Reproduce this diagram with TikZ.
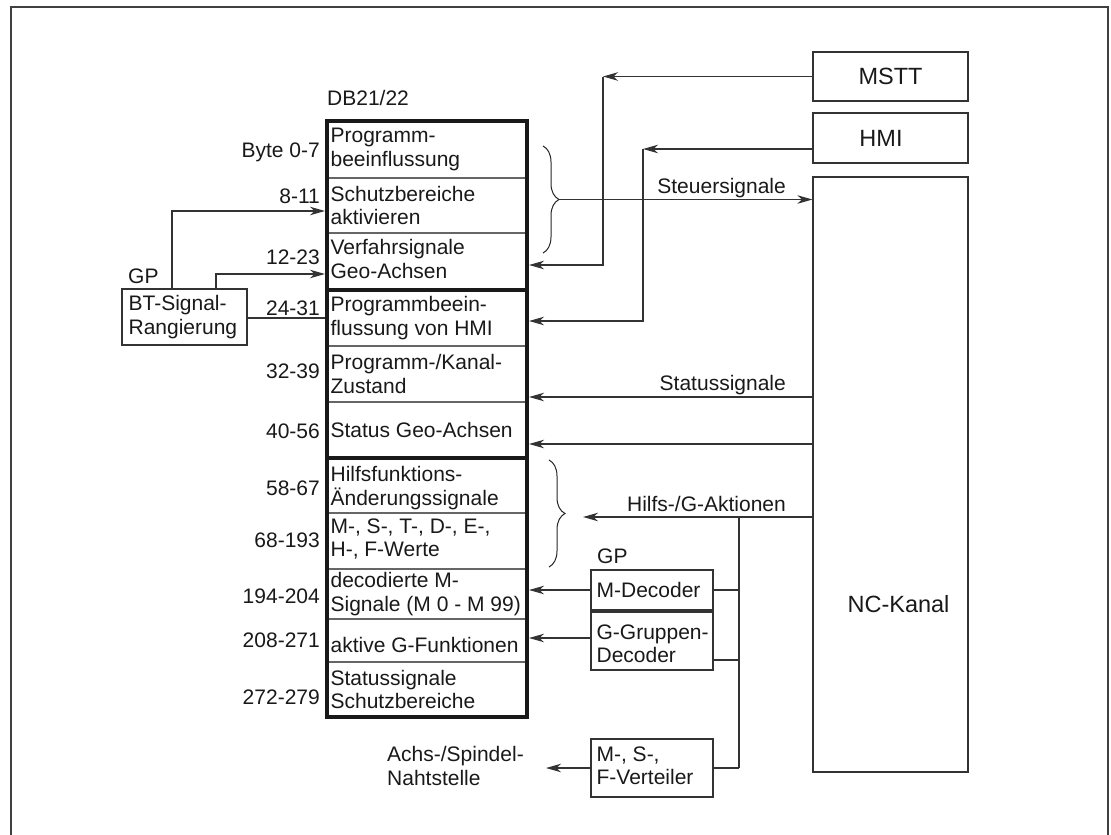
\documentclass[tikz,border=0pt]{standalone}
\usepackage{fontspec}
\setmainfont{Liberation Sans}
\usetikzlibrary{arrows.meta,decorations.pathreplacing}
\begin{document}
\begin{tikzpicture}[x=1pt,y=-1pt,
 every node/.style={font=\fontsize{21}{23.5}\selectfont, text=black!90, inner sep=0pt},
 big/.style={font=\fontsize{23.5}{26}\selectfont},
 ln/.style={draw=black!80, line width=1.2pt},
 arr/.style={ln, -{Stealth[length=15pt,width=8.5pt,inset=4.5pt]}},
 box/.style={draw=black!80, line width=1.2pt, rectangle, inner sep=0pt},
 row/.style={draw=black!60, line width=1.2pt, rectangle, minimum width=200pt, inner sep=0pt},
 grp/.style={draw=black!90, line width=4pt, rectangle, minimum width=200pt, inner sep=0pt},
 txt/.style={align=left, anchor=west},
 num/.style={anchor=base east},
 brc/.style={draw=black!85, line width=1pt, decorate, decoration={brace,amplitude=16pt}}
]
\useasboundingbox (0,0) rectangle (1111,835);
% outer frame
\draw[draw=black!75, line width=2pt] (11,836) -- (11,7) -- (1108,7) -- (1108,836);

% DB rows
\node[row, minimum height=57pt] (r1) at (427,149.5) {};
\node[row, minimum height=55pt] (r2) at (427,205.5) {};
\node[row, minimum height=57pt] (r3) at (427,261.5) {};
\node[row, minimum height=56pt] (r4) at (427,318) {};
\node[row, minimum height=56pt] (r5) at (427,374) {};
\node[row, minimum height=56pt] (r6) at (427,430) {};
\node[row, minimum height=55pt] (r7) at (427,485.5) {};
\node[row, minimum height=56pt] (r8) at (427,541) {};
\node[row, minimum height=50pt] (r9) at (427,594) {};
\node[row, minimum height=43pt] (r10) at (427,640.5) {};
\node[row, minimum height=55pt] (r11) at (427,689.5) {};
\node[grp, minimum height=169pt] (g1) at (427,205.5) {};
\node[grp, minimum height=168pt] (g2) at (427,374) {};
\node[grp, minimum height=259pt] (g3) at (427,587.5) {};

\node[txt] (t1) at ([xshift=4pt]r1.west) {Programm-\\beeinflussung};
\node[txt] (t2) at ([xshift=4pt]r2.west) {Schutzbereiche\\aktivieren};
\node[txt] (t3) at ([xshift=4pt,yshift=2.5pt]r3.west) {Verfahrsignale\\Geo-Achsen};
\node[txt] (t4) at ([xshift=4pt]r4.west) {Programmbeein-\\flussung von HMI};
\node[txt] (t5) at ([xshift=4pt]r5.west) {Programm-/Kanal-\\Zustand};
\node[txt] (t6) at ([xshift=4pt]r6.west) {Status Geo-Achsen};
\node[txt] (t7) at ([xshift=4pt,yshift=-2.5pt]r7.west) {Hilfsfunktions-\\Änderungssignale};
\node[txt] (t8) at ([xshift=4pt,yshift=2pt]r8.west) {M-, S-, T-, D-, E-,\\H-, F-Werte};
\node[txt] (t9) at ([xshift=4pt]r9.west) {decodierte M-\\Signale (M 0 - M 99)};
\node[txt] (t10) at ([xshift=4pt,yshift=-4pt]r10.west) {aktive G-Funktionen};
\node[txt] (t11) at ([xshift=4pt]r11.west) {Statussignale\\Schutzbereiche};

\node[anchor=base west] (db) at (327,105) {DB21/22};

% left numbers
\node[num] (n1) at (320,157) {Byte 0-7};
\node[num] (n2) at (320,203) {8-11};
\node[num] (n3) at (320,264) {12-23};
\node[num] (n4) at (320,315) {24-31};
\node[num] (n5) at (320,378) {32-39};
\node[num] (n6) at (320,438) {40-56};
\node[num] (n7) at (320,495) {58-67};
\node[num] (n8) at (320,547) {68-193};
\node[num] (n9) at (320,603) {194-204};
\node[num] (n10) at (320,647) {208-271};
\node[num] (n11) at (320,704) {272-279};

% BT box
\node[anchor=base west] (gp1) at (128,283) {GP};
\node[box, minimum width=125pt, minimum height=56pt] (bt) at (184.5,317) {};
\node[txt] (tbt) at ([xshift=7pt]bt.west) {BT-Signal-\\Rangierung};
\coordinate (c1) at (172,211);
\coordinate (c2) at (216,274);
\coordinate (c3) at (250,318);
\draw[arr] (bt.north -| c1) -- (c1) -- (g1.west |- c1);
\draw[arr] (bt.north -| c2) -- (c2) -- (g1.west |- c2);
\draw[ln] (bt.east |- c3) -- (g2.west |- c3);

% right boxes
\node[box, big, minimum width=155pt, minimum height=49pt] (mstt) at (890.5,76.5) {MSTT};
\node[box, minimum width=155pt, minimum height=50pt] (hmi) at (890.5,138) {};
\node[big] (thmi) at (881,138) {HMI};
\node[box, minimum width=155pt, minimum height=595pt] (nc) at (890.5,474.5) {};
\node[big] (tnc) at (898.5,604.5) {NC-Kanal};

% MSTT connector
\coordinate (m1) at (603,76.5);
\coordinate (m2) at (603,265);
\draw[arr] (mstt.west) -- (m1);
\draw[arr] (m1) -- (m2) -- (g1.east |- m2);
% HMI connector
\coordinate (h1) at (643,149);
\coordinate (h2) at (643,321);
\draw[arr] (hmi.west |- h1) -- (h1);
\draw[arr] (h1) -- (h2) -- (g2.east |- h2);

% Steuersignale
\draw[brc] (543,146) -- (543,253);
\coordinate (b1) at (559,199.5);
\draw[arr] (b1) -- (nc.west |- b1);
\node[anchor=base east] (lst) at (786,193) {Steuersignale};

% Statussignale
\coordinate (s1) at (700,397);
\coordinate (s2) at (700,444);
\draw[arr] (nc.west |- s1) -- (g2.east |- s1);
\draw[arr] (nc.west |- s2) -- (g2.east |- s2);
\node[anchor=base east] (lss) at (786,390) {Statussignale};

% Hilfs-/G-Aktionen
\draw[brc] (549,460) -- (549,567);
\coordinate (hf) at (583,517);
\coordinate (tr) at (739,517);
\draw[arr] (nc.west |- hf) -- (hf);
\node[anchor=base east] (lhg) at (786,511) {Hilfs-/G-Aktionen};

% decoders
\node[anchor=base west] (gp2) at (597,563) {GP};
\node[box, minimum width=122pt, minimum height=40pt] (mdec) at (652,590) {};
\node[txt] (tmdec) at ([xshift=6pt]mdec.west) {M-Decoder};
\node[box, minimum width=122pt, minimum height=58pt] (ggr) at (652,641) {};
\node[txt] (tggr) at ([xshift=6pt,yshift=-3pt]ggr.west) {G-Gruppen-\\Decoder};
\node[box, minimum width=122pt, minimum height=58pt] (vert) at (652,768) {};
\node[txt] (tvert) at ([xshift=6pt,yshift=2pt]vert.west) {M-, S-,\\F-Verteiler};

\coordinate (gg) at (739,660);
\coordinate (ga) at (600,638);
\draw[ln] (tr) -- (tr |- vert.east);
\draw[ln] (mdec.east) -- (mdec.east -| tr);
\draw[ln] (ggr.east |- gg) -- (gg);
\draw[ln] (vert.east) -- (vert.east -| tr);
\draw[arr] (mdec.west) -- (g3.east |- mdec.west);
\draw[arr] (ggr.west |- ga) -- (g3.east |- ga);
\coordinate (ach) at (546,768);
\draw[arr] (vert.west) -- (ach);
\node[align=left, anchor=north west] (tach) at (387,746.5) {Achs-/Spindel-\\Nahtstelle};
\end{tikzpicture}
\end{document}
